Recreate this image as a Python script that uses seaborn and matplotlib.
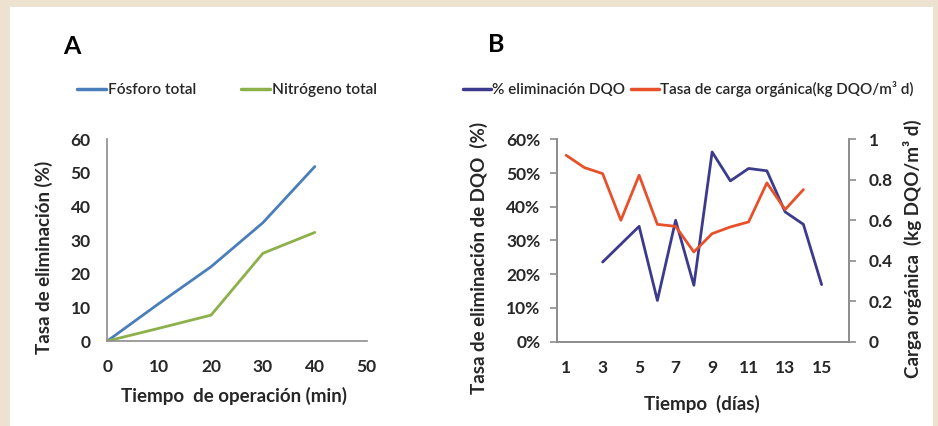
import matplotlib
matplotlib.use("Agg")
import matplotlib.pyplot as plt
import seaborn as sns
import numpy as np
import pandas as pd
from matplotlib.lines import Line2D
from matplotlib.ticker import FuncFormatter

# Panel A data
tiempo_min = [0, 10, 20, 30, 40]
fosforo = [0, 11.2, 22.1, 35.2, 51.9]
nitrogeno = [0, 3.8, 7.7, 26.1, 32.3]

# Panel B data
dias_dqo = [3, 4, 5, 6, 7, 8, 9, 10, 11, 12, 13, 14, 15]
elim_dqo = [23.6, 28.9, 34.2, 12.2, 36.0, 16.7, 56.3, 47.7, 51.4, 50.7, 38.5, 34.8, 16.9]
dias_carga = [1, 2, 3, 4, 5, 6, 7, 8, 9, 10, 11, 12, 13, 14]
carga = [0.922, 0.861, 0.831, 0.60, 0.823, 0.58, 0.57, 0.443, 0.534, 0.567, 0.592, 0.785, 0.653, 0.752]
dias_ticks = [1, 3, 5, 7, 9, 11, 13, 15]

sns.set_style("white")
plt.rcParams['font.family'] = ['Lato', 'DejaVu Sans']

BLUE_A = "#4a7ebb"
GREEN_A = "#8cb04a"
NAVY = "#3b3a8c"
RED = "#e8502a"
TXT = "#262626"
SPINE = "#8c8c8c"
LABEL_SIZE = 13.5
TICK_SIZE = 12.5

fig = plt.figure(figsize=(9.38, 4.26), dpi=100)
fig.patch.set_facecolor("#ede2cf")
# white panel behind everything
fig.patches.append(plt.Rectangle((10 / 938, 0), (933 - 10) / 938, 1 - 7 / 426,
                                 transform=fig.transFigure, facecolor="white",
                                 edgecolor="none", zorder=-10))

def style_axis(ax):
    for s in ax.spines.values():
        s.set_color(SPINE)
        s.set_linewidth(1.2)
    ax.tick_params(colors=SPINE, labelcolor=TXT, labelsize=TICK_SIZE, width=1.2, length=5, pad=7)
    for lab in ax.get_xticklabels() + ax.get_yticklabels():
        lab.set_fontweight("bold")

# ---- Panel A ----
axA = fig.add_axes([107.3 / 938, 1 - 341 / 426, (366.7 - 107.3) / 938, (341 - 139.3) / 426])
axA.patch.set_alpha(0)
dfA = pd.DataFrame({"t": tiempo_min, "P": fosforo, "N": nitrogeno})
sns.lineplot(data=dfA, x="t", y="P", ax=axA, color=BLUE_A, lw=2)
sns.lineplot(data=dfA, x="t", y="N", ax=axA, color=GREEN_A, lw=2)
axA.set_xlim(0, 50)
axA.set_ylim(0, 60)
axA.set_xticks(range(0, 51, 10))
axA.set_yticks(range(0, 61, 10))
sns.despine(ax=axA)
style_axis(axA)
axA.tick_params(axis="x", direction="inout", length=8, pad=9)
axA.set_xlabel("Tiempo  de operación (min)", fontsize=LABEL_SIZE, fontweight="bold", color=TXT)
axA.set_ylabel("Tasa de eliminación (%)", fontsize=LABEL_SIZE, fontweight="bold", color=TXT)
axA.xaxis.set_label_coords(0.49, -0.23)
axA.yaxis.set_label_coords(-0.209, 0.416)

legA = fig.legend(handles=[Line2D([], [], color=BLUE_A, lw=2.5), Line2D([], [], color=GREEN_A, lw=2.5)],
                  labels=["Fósforo total", "Nitrógeno total"], loc="center left",
                  bbox_to_anchor=(77 / 938, 1 - 90 / 426), ncol=2, frameon=False,
                  borderpad=0, borderaxespad=0, handlelength=1.9, handletextpad=0.1,
                  columnspacing=2.9, prop={"size": 11.1, "weight": "semibold"})
for t in legA.get_texts():
    t.set_color(TXT)

# ---- Panel B ----
axB = fig.add_axes([557 / 938, 1 - 341.5 / 426, (849 - 557) / 938, (341.5 - 139.5) / 426])
axB.patch.set_alpha(0)
axB2 = axB.twinx()
dfB1 = pd.DataFrame({"d": dias_dqo, "v": elim_dqo})
dfB2 = pd.DataFrame({"d": dias_carga, "v": carga})
sns.lineplot(data=dfB1, x="d", y="v", ax=axB, color=NAVY, lw=2)
sns.lineplot(data=dfB2, x="d", y="v", ax=axB2, color=RED, lw=2)
axB.set_xlim(0.5, 16.5)
axB.set_ylim(0, 60)
axB2.set_ylim(0, 1)
axB.set_yticks(range(0, 61, 10))
axB.yaxis.set_major_formatter(FuncFormatter(lambda v, p: f"{v:.0f}%"))
axB2.set_yticks([0, 0.2, 0.4, 0.6, 0.8, 1])
axB2.set_yticklabels(["0", "0.2", "0.4", "0.6", "0.8", "1"])
axB.set_xticks(dias_ticks)
axB.set_xticks(np.arange(0.5, 17, 1), minor=True)
for a in (axB, axB2):
    a.spines["top"].set_visible(False)
style_axis(axB)
style_axis(axB2)
axB2.tick_params(axis="y", pad=9)
axB.tick_params(axis="x", which="major", length=0, pad=13)
axB.tick_params(axis="x", which="minor", direction="inout", length=8, width=1.2, colors=SPINE)
axB.set_xlabel("Tiempo  (días)", fontsize=LABEL_SIZE, fontweight="bold", color=TXT)
axB.set_ylabel("Tasa de eliminación de DQO  (%)", fontsize=LABEL_SIZE, fontweight="bold", color=TXT)
axB2.set_ylabel("Carga orgánica  (kg DQO/m³ d)", fontsize=LABEL_SIZE, fontweight="bold", color=TXT)
axB.xaxis.set_label_coords(0.496, -0.265)
axB.yaxis.set_label_coords(-0.236, 0.413)
axB2.yaxis.set_label_coords(1.185, 0.46)

legB = fig.legend(handles=[Line2D([], [], color=NAVY, lw=2.5), Line2D([], [], color=RED, lw=2.5)],
                  labels=["% eliminación DQO", "Tasa de carga orgánica(kg DQO/m³ d)"], loc="center left",
                  bbox_to_anchor=(463 / 938, 1 - 89 / 426), ncol=2, frameon=False,
                  borderpad=0, borderaxespad=0, handlelength=1.8, handletextpad=0.1,
                  columnspacing=0.4, prop={"size": 11.0, "weight": "semibold"})
for t in legB.get_texts():
    t.set_color(TXT)

fig.text(72 / 938, 1 - 46 / 426, "A", fontsize=18, fontweight="bold", color="black", ha="center", va="center")
fig.text(496 / 938, 1 - 45 / 426, "B", fontsize=18, fontweight="bold", color="black", ha="center", va="center")

fig.savefig("out.png", dpi=100, facecolor=fig.get_facecolor())
